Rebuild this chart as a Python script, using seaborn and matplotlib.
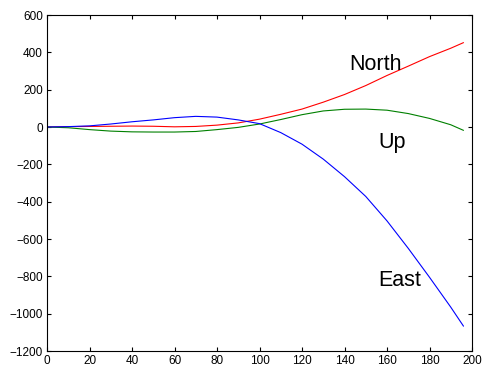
import matplotlib
matplotlib.use("Agg")
import matplotlib.pyplot as plt
import seaborn as sns
import pandas as pd

# ---- data ----
x = [0, 10, 20, 30, 40, 50, 60, 70, 80, 90, 100, 110, 120, 130, 140, 150, 160, 170, 180, 190, 196]
north = [0, 2, 3, 4, 5, 4, 1, 3, 10, 22, 42, 68, 96, 133, 174, 222, 276, 326, 377, 422, 452]
up = [0, -4, -14, -22, -26, -27, -27, -24, -14, -2, 16, 40, 66, 86, 95, 96, 90, 72, 46, 12, -18]
east = [0, 2, 6, 16, 28, 38, 50, 57, 53, 38, 18, -30, -92, -172, -266, -372, -503, -650, -805, -965, -1067]

labels = ["North", "Up", "East"]
label_pos = [(154.5, 305), (162.5, -114), (166, -852)]
colors = {"North": "#ff0000", "Up": "#008000", "East": "#0000ff"}

xticks = list(range(0, 201, 20))
yticks = list(range(-1200, 601, 200))

df = pd.concat([
    pd.DataFrame({"x": x, "value": north, "series": "North"}),
    pd.DataFrame({"x": x, "value": up, "series": "Up"}),
    pd.DataFrame({"x": x, "value": east, "series": "East"}),
])

sns.set_theme(style="ticks")
plt.rcParams["font.family"] = ["Liberation Sans", "DejaVu Sans"]

fig = plt.figure(figsize=(4.86, 3.67), dpi=100)
ax = fig.add_axes([47 / 486, 1 - 351 / 367, (472 - 47) / 486, (351 - 15) / 367])

for name in ["North", "Up", "East"]:
    sub = df[df["series"] == name]
    sns.lineplot(data=sub, x="x", y="value", color=colors[name], linewidth=0.8,
                 ax=ax, legend=False, errorbar=None, sort=False)

for name, (lx, ly) in zip(labels, label_pos):
    ax.text(lx, ly, name, fontsize=15.5, ha="center", va="baseline", color="black")

ax.set_xlim(0, 200)
ax.set_ylim(-1200, 600)
ax.set_xticks(xticks)
ax.set_yticks(yticks)
ax.set_xlabel("")
ax.set_ylabel("")
ax.tick_params(direction="in", length=3, width=0.8, top=True, right=True,
               labelsize=8.5, colors="black", pad=3)
for s in ax.spines.values():
    s.set_visible(True)
    s.set_linewidth(0.8)
    s.set_color("black")

fig.savefig("out.png", dpi=100)
